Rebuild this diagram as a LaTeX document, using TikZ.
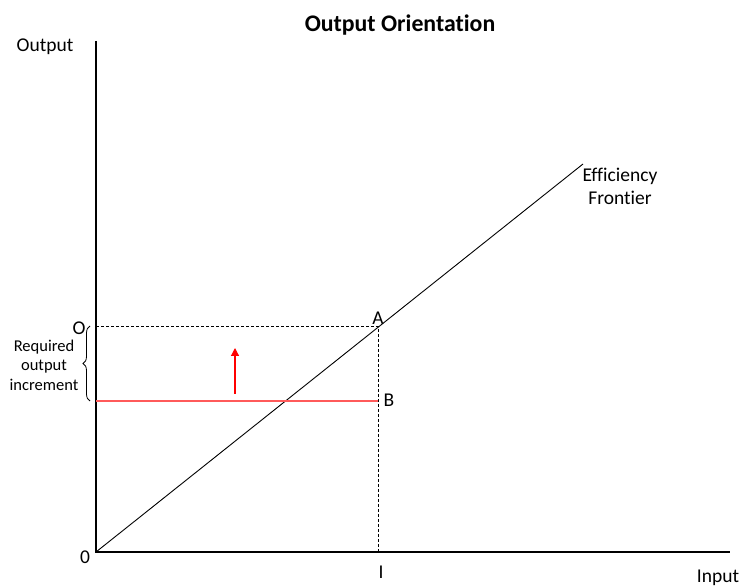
\documentclass[tikz,border=0pt]{standalone}
\usepackage{fontspec}
\setmainfont{Carlito}[Ligatures=NoCommon]
\usetikzlibrary{arrows.meta,decorations.pathreplacing}
\definecolor{gapred}{RGB}{255,90,90}
\tikzset{
  axisline/.style={draw=black,line width=1.1pt},
  frontline/.style={draw=black,line width=0.9pt},
  guideline/.style={draw=black,dash pattern=on 3pt off 2pt,line width=0.8pt},
  gapline/.style={color=gapred,line width=1.1pt},
  uparrow/.style={color=red,line width=1.2pt},
  lbl/.style={font=\fontsize{19.5}{23}\selectfont,inner sep=0pt},
  smalllbl/.style={font=\fontsize{16.5}{19.5}\selectfont,align=center,inner sep=0pt},
  titlelbl/.style={font=\fontsize{23.8}{28}\selectfont\bfseries,inner sep=0pt},
}
\begin{document}
\begin{tikzpicture}[x=1pt,y=1pt]
\useasboundingbox (0,0) rectangle (740,587);
% axes and frontier
\coordinate (orig) at (96,35);
\coordinate (ytop) at (96,546);
\coordinate (xend) at (730,35);
\coordinate (fend) at (583,423);
\coordinate (ptA) at (378,261);
\coordinate (ptB) at (378,186);
\coordinate (yO) at (96,261);
\coordinate (yB) at (96,186);
\coordinate (xI) at (378,35);
\coordinate (arrlow) at (235,193);
\coordinate (arrtop) at (235,239);
\draw[axisline] (ytop) -- (orig) -- (xend);
\draw[frontline] (orig) -- (fend);
\draw[guideline] (yO) -- (ptA) -- (xI);
\draw[gapline] (yB) -- (ptB);
\draw[uparrow,-{Triangle[length=8pt,width=8pt]}] (arrlow) -- (arrtop);
\draw[black,line width=0.8pt,decorate,decoration={brace,amplitude=7pt}] (90,186) -- (90,261);
% labels
\node[titlelbl] (title) at (400,562) {Output Orientation};
\node[lbl] (ylab) at (45,540) {Output};
\node[lbl] (xlab) at (718,9) {Input};
\node[lbl] (zero) at (85,30) {0};
\node[lbl] (labO) at (79,259) {O};
\node[lbl] (labA) at (378,269) {A};
\node[lbl] (labB) at (389,187) {B};
\node[lbl] (labI) at (381,15) {I};
\node[lbl,align=center] (flab) at (620,401) {Efficiency\\Frontier};
\node[smalllbl] (inclab) at (44,222) {Required\\output\\increment};
\end{tikzpicture}
\end{document}
